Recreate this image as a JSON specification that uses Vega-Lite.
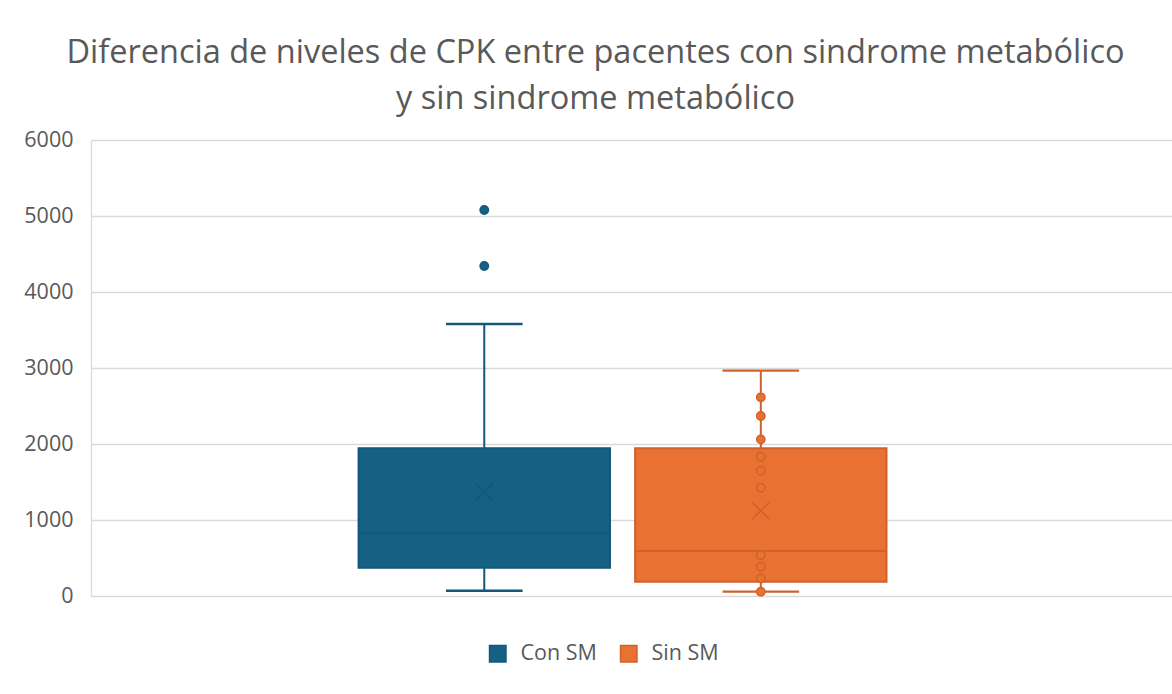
{
  "$schema": "https://vega.github.io/schema/vega-lite/v6.json",
  "width": 1081,
  "height": 456,
  "autosize": {"type": "none"},
  "padding": {"left": 91, "top": 140, "right": 0, "bottom": 98},
  "background": "white",
  "title": {
    "text": ["Diferencia de niveles de CPK entre pacentes con sindrome metabólico", "y sin sindrome metabólico"],
    "anchor": "middle",
    "frame": "group",
    "dx": -36,
    "offset": 14,
    "fontSize": 32.5,
    "font": "Open Sans",
    "fontWeight": "normal",
    "color": "#595959",
    "lineHeight": 46
  },
  "datasets": {
    "stats": [
      {"series": "Con SM", "lower": 70, "q1": 373, "median": 825, "q3": 1943, "upper": 3579, "mean": 1364},
      {"series": "Sin SM", "lower": 57, "q1": 189, "median": 592, "q3": 1943, "upper": 2965, "mean": 1123}
    ],
    "points": [
      {"series": "Con SM", "value": 5079},
      {"series": "Con SM", "value": 4342},
      {"series": "Sin SM", "value": 2614},
      {"series": "Sin SM", "value": 2368},
      {"series": "Sin SM", "value": 2061},
      {"series": "Sin SM", "value": 1833},
      {"series": "Sin SM", "value": 1649},
      {"series": "Sin SM", "value": 1425},
      {"series": "Sin SM", "value": 539},
      {"series": "Sin SM", "value": 386},
      {"series": "Sin SM", "value": 232},
      {"series": "Sin SM", "value": 57}
    ]
  },
  "encoding": {
    "x": {
      "field": "series",
      "type": "nominal",
      "axis": null,
      "scale": {"domain": ["Con SM", "Sin SM"], "paddingInner": 0.0909, "paddingOuter": 1.011, "align": 0.4838}
    }
  },
  "layer": [
    {
      "data": {"name": "stats"},
      "mark": {"type": "rule", "strokeWidth": 2},
      "encoding": {
        "y": {"field": "lower", "type": "quantitative", "scale": {"domain": [0, 6000]}, "axis": {"values": [0, 1000, 2000, 3000, 4000, 5000, 6000], "format": "d", "title": null}},
        "y2": {"field": "upper"},
        "stroke": {"field": "series", "type": "nominal", "title": null, "scale": {"domain": ["Con SM", "Sin SM"], "range": ["#13577A", "#CF622C"]}}
      }
    },
    {
      "data": {"name": "stats"},
      "mark": {"type": "tick", "size": 75, "thickness": 0.8, "filled": false, "strokeWidth": 1.6, "opacity": 1},
      "encoding": {
        "y": {"field": "lower", "type": "quantitative"},
        "stroke": {"field": "series", "type": "nominal", "title": null}
      }
    },
    {
      "data": {"name": "stats"},
      "mark": {"type": "tick", "size": 75, "thickness": 0.8, "filled": false, "strokeWidth": 1.6, "opacity": 1},
      "encoding": {
        "y": {"field": "upper", "type": "quantitative"},
        "stroke": {"field": "series", "type": "nominal", "title": null}
      }
    },
    {
      "data": {"name": "stats"},
      "mark": {"type": "bar", "strokeWidth": 2, "opacity": 1},
      "encoding": {
        "y": {"field": "q1", "type": "quantitative"},
        "y2": {"field": "q3"},
        "fill": {"field": "series", "type": "nominal", "title": null, "scale": {"domain": ["Con SM", "Sin SM"], "range": ["#166083", "#E97132"]}},
        "stroke": {"field": "series", "type": "nominal", "title": null}
      }
    },
    {
      "data": {"name": "stats"},
      "mark": {"type": "tick", "size": 248, "thickness": 0.5, "filled": false, "strokeWidth": 1.5, "opacity": 1},
      "encoding": {
        "y": {"field": "median", "type": "quantitative"},
        "stroke": {"field": "series", "type": "nominal", "title": null}
      }
    },
    {
      "data": {"name": "stats"},
      "mark": {"type": "point", "shape": "M-1,-1L1,1M-1,1L1,-1", "filled": false, "size": 300, "strokeWidth": 1.5, "opacity": 1},
      "encoding": {
        "y": {"field": "mean", "type": "quantitative"},
        "stroke": {"field": "series", "type": "nominal", "title": null}
      }
    },
    {
      "data": {"name": "points"},
      "mark": {"type": "circle", "size": 70, "strokeWidth": 1.5, "opacity": 1},
      "encoding": {
        "y": {"field": "value", "type": "quantitative"},
        "fill": {"field": "series", "type": "nominal", "title": null},
        "stroke": {"field": "series", "type": "nominal", "title": null}
      }
    }
  ],
  "config": {
    "view": {"stroke": null},
    "font": "Open Sans",
    "axisY": {
      "grid": true,
      "gridColor": "#D9D9D9",
      "gridWidth": 1.3,
      "domain": true,
      "domainColor": "#D9D9D9",
      "domainWidth": 1.3,
      "ticks": false,
      "labelPadding": 18,
      "labelFontSize": 21.5,
      "labelColor": "#595959",
      "labelFont": "Open Sans"
    },
    "legend": {
      "orient": "none",
      "legendX": 396,
      "legendY": 503,
      "direction": "horizontal",
      "symbolType": "square",
      "symbolSize": 270,
      "symbolStrokeWidth": 1.5,
      "symbolOpacity": 1,
      "labelFontSize": 21.5,
      "labelColor": "#595959",
      "labelFont": "Open Sans",
      "labelOffset": 12,
      "columnPadding": 20
    }
  }
}
